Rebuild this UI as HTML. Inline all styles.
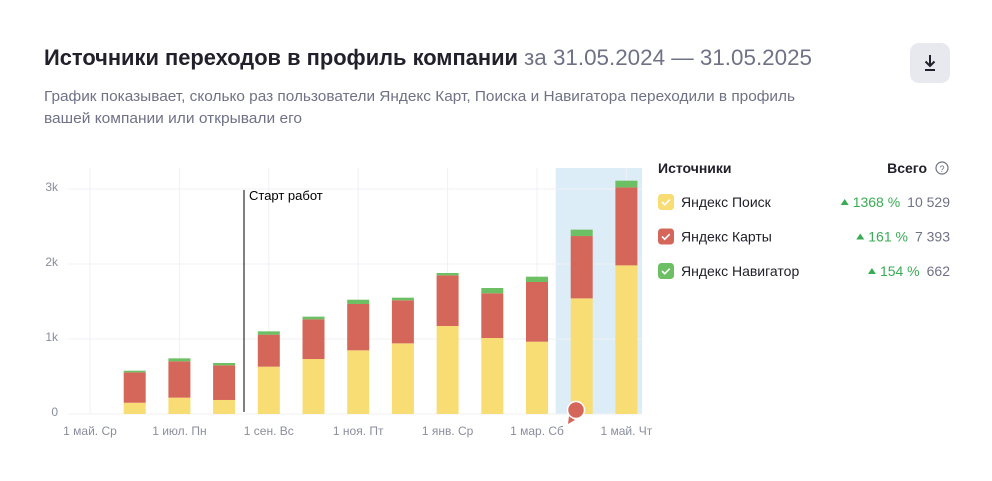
<!DOCTYPE html>
<html><head><meta charset="utf-8"><style>
body{margin:0;background:#fff;width:992px;height:476px;overflow:hidden;font-family:"Liberation Sans",sans-serif}
</style></head><body>
<svg id="c" width="992" height="476" xmlns="http://www.w3.org/2000/svg" font-family="Liberation Sans, sans-serif">
<text x="44" y="65" font-size="22" font-weight="bold" fill="#21202b" textLength="474" lengthAdjust="spacingAndGlyphs">Источники переходов в профиль компании</text>
<text x="524" y="65" font-size="22" fill="#6f7287" textLength="288" lengthAdjust="spacingAndGlyphs">за 31.05.2024 — 31.05.2025</text>
<text x="44" y="101" font-size="15" fill="#6f7287" textLength="751" lengthAdjust="spacingAndGlyphs">График показывает, сколько раз пользователи Яндекс Карт, Поиска и Навигатора переходили в профиль</text>
<text x="44" y="123" font-size="15" fill="#6f7287" textLength="258" lengthAdjust="spacingAndGlyphs">вашей компании или открывали его</text>
<g>
<rect x="910" y="43" width="40" height="40" rx="9" fill="#e8e9ef"/>
<path d="M930 55v11M925.5 61.5l4.5 4.5 4.5-4.5M925 70h10" stroke="#21202b" stroke-width="2" fill="none"/>
</g>
<g id="plot"></g>
<g>
<text x="658" y="173" font-size="14" font-weight="bold" fill="#21202b">Источники</text>
<text x="927" y="173" font-size="14" font-weight="bold" fill="#21202b" text-anchor="end">Всего</text>
<g><circle cx="942" cy="168" r="6" fill="none" stroke="#6f7287" stroke-width="1.2"/><text x="942" y="172" font-size="9" fill="#6f7287" text-anchor="middle">?</text></g>
<g id="leg"></g>
</g>
</svg>
<script>
const categories=["1 май","1 июн","1 июл","1 авг","1 сен","1 окт","1 ноя","1 дек","1 янв","1 фев","1 мар","1 апр","1 май"];
const tickLabels=["1 май. Ср","1 июл. Пн","1 сен. Вс","1 ноя. Пт","1 янв. Ср","1 мар. Сб","1 май. Чт"];
const tickIndex=[0,2,4,6,8,10,12];
const poisk=[0,150,218,187,631,733,849,942,1173,1013,964,1542,1982];
const karty=[0,405,484,462,427,529,618,574,676,596,796,831,1040];
const navig=[0,22,40,31,44,36,57,35,31,71,71,85,89];
const yTicks=[0,1000,2000,3000];
const yTickLabels=["0","1k","2k","3k"];
const seriesNames=["Яндекс Поиск","Яндекс Карты","Яндекс Навигатор"];
const seriesPct=["1368 %","161 %","154 %"];
const seriesTotals=["10 529","7 393","662"];
const NS="http://www.w3.org/2000/svg";
const X0=90,STEP=44.7,Y0=414,PPK=0.075,BW=22;
const xs=i=>X0+i*STEP, ys=v=>Y0-v*PPK;
const plot=document.getElementById('plot');
function mk(t,a,p){const e=document.createElementNS(NS,t);for(const k in a)e.setAttribute(k,a[k]);(p||plot).appendChild(e);return e;}
let band=mk('rect',{x:xs(11)-26,y:168,width:642-(xs(11)-26),height:246,fill:'#dcedf8'});


yTicks.forEach((v,i)=>{
 let g=mk('line',{x1:68,x2:642,y1:ys(v),y2:ys(v),stroke:'#f0f1f5'});
 
 
 let t=mk('text',{x:58,y:ys(v)+2,'font-size':12,fill:'#8a8d9e','text-anchor':'end'});t.textContent=yTickLabels[i];
 
 
});
tickIndex.forEach((ci,i)=>{
 let g=mk('line',{x1:xs(ci),x2:xs(ci),y1:168,y2:414,stroke:'#f0f1f5'});
 
 
 let t=mk('text',{x:xs(ci),y:435,'font-size':12,fill:'#8a8d9e','text-anchor':'middle'});t.textContent=tickLabels[i];
 
 
});
const cols=['#f8dc74','#d5675a','#6cbf62'];
categories.forEach((c,i)=>{
 if(poisk[i]+karty[i]+navig[i]===0)return;
 let base=0;[poisk,karty,navig].forEach((s,k)=>{
  let r=mk('rect',{x:xs(i)-BW/2,y:ys(base+s[i]),width:BW,height:s[i]*PPK,fill:cols[k]});
  
  
  base+=s[i];
 });
});
let sl=mk('line',{x1:244,x2:244,y1:190,y2:412,stroke:'#000','stroke-width':1});


let st=mk('text',{x:249,y:200,'font-size':13,fill:'#000'});st.textContent='Старт работ';


let pin=mk('g',{});


mk('path',{d:'M569 416 l-1 8 l7 -4 z',fill:'#d5675a'},pin);
mk('circle',{cx:576,cy:410,r:8.5,fill:'#d5675a',stroke:'#fff','stroke-width':1.5},pin);
const leg=document.getElementById('leg');
seriesNames.forEach((n,i)=>{
 const y=202+i*34.5;
 let g=mk('g',{},leg);
 
 
 mk('rect',{x:658,y:y-8,width:16,height:16,rx:3.5,fill:cols[i]},g);
 mk('path',{d:`M662 ${y} l2.7 2.7 l5 -5`,stroke:'#fff','stroke-width':1.6,fill:'none'},g);
 let t=mk('text',{x:681,y:y+5,'font-size':14,fill:'#21202b'},g);t.textContent=n;
 let tot=mk('text',{x:950,y:y+5,'font-size':14,fill:'#6f7287','text-anchor':'end'},g);tot.textContent=seriesTotals[i];
 const tw=tot.getComputedTextLength();
 let p=mk('text',{x:950-tw-7,y:y+5,'font-size':14,fill:'#3aab55','text-anchor':'end'},g);p.textContent=seriesPct[i];
 const pw=p.getComputedTextLength();
 const ax=950-tw-7-pw-8;
 mk('path',{d:`M${ax-4} ${y+3} l4 -6 l4 6 z`,fill:'#3aab55'},g);
});
</script>
</body></html>
